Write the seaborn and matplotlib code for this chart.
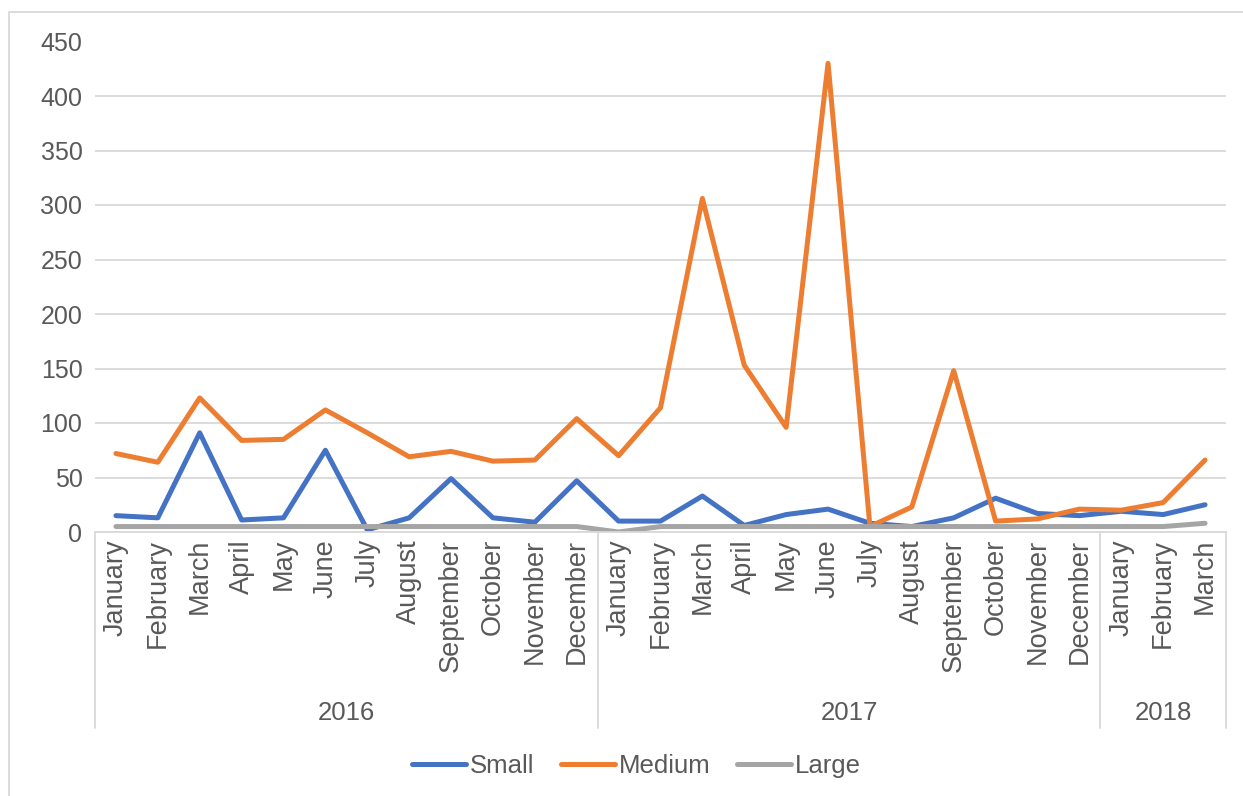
import matplotlib
matplotlib.use("Agg")
import matplotlib.pyplot as plt
import matplotlib.transforms as mtrans
from matplotlib.patches import Rectangle
from matplotlib.lines import Line2D
import seaborn as sns
import pandas as pd

months = ["January", "February", "March", "April", "May", "June", "July",
          "August", "September", "October", "November", "December",
          "January", "February", "March", "April", "May", "June", "July",
          "August", "September", "October", "November", "December",
          "January", "February", "March"]
years = ["2016", "2017", "2018"]
year_counts = [12, 12, 3]

small = [15, 13, 91, 11, 13, 75, 2, 13, 49, 13, 9, 47,
         10, 10, 33, 6, 16, 21, 8, 5, 13, 31, 17, 15, 19, 16, 25]
medium = [72, 64, 123, 84, 85, 112, 91, 69, 74, 65, 66, 104,
          70, 114, 306, 153, 96, 430, 5, 23, 148, 10, 12, 21, 20, 27, 66]
large = [5, 5, 5, 5, 5, 5, 5, 5, 5, 5, 5, 5,
         0, 5, 5, 5, 5, 5, 5, 5, 5, 5, 5, 5, 5, 5, 8]

series_names = ["Small", "Medium", "Large"]
colors = {"Small": "#4472C4", "Medium": "#ED7D31", "Large": "#A5A5A5"}

rows = []
for name, vals in zip(series_names, [small, medium, large]):
    for i, v in enumerate(vals):
        rows.append({"idx": i, "value": v, "series": name})
df = pd.DataFrame(rows)

sns.set_theme(style="white")
plt.rcParams["font.family"] = ["Liberation Sans", "DejaVu Sans"]
TXT = "#595959"

fig = plt.figure(figsize=(12.43, 7.96), dpi=100)
ax = fig.add_axes([95 / 1243, 1 - 532 / 796, (1226 - 95) / 1243, (532 - 41.5) / 796])

sns.lineplot(data=df, x="idx", y="value", hue="series", hue_order=series_names,
             palette=colors, linewidth=3.6, ax=ax, legend=False,
             solid_capstyle="round", solid_joinstyle="round")

ax.set_xlim(-0.5, len(months) - 0.5)
ax.set_ylim(0, 450)
ax.set_yticks(range(0, 451, 50))
ax.yaxis.grid(True, color="#D9D9D9", linewidth=1.3)
ax.set_axisbelow(True)
for s in ["top", "right", "left"]:
    ax.spines[s].set_visible(False)
ax.spines["bottom"].set_color("#D9D9D9")
ax.spines["bottom"].set_linewidth(1.3)
ax.tick_params(axis="y", length=0, labelsize=18, labelcolor=TXT, pad=9)
ax.set_xticks(range(len(months)))
ax.set_xticklabels(months, rotation=90, fontsize=19.5, color=TXT, va="top")
ax.tick_params(axis="x", length=0, pad=5)
ax.set_xlabel("")
ax.set_ylabel("")

# multi-level category axis
trans = mtrans.blended_transform_factory(ax.transData, fig.transFigure)
y_top = 1 - 532 / 796
y_bot = 1 - 728 / 796
y_year = 1 - 713 / 796
start = 0
bounds = [-0.5]
for yr, cnt in zip(years, year_counts):
    center = start + (cnt - 1) / 2
    ax.text(center, y_year, yr, transform=trans, ha="center", va="center",
            fontsize=18.5, color=TXT)
    start += cnt
    bounds.append(start - 0.5)
for b in bounds:
    ax.plot([b, b], [y_top, y_bot], transform=trans, color="#D9D9D9",
            linewidth=1.3, clip_on=False)

# legend
handles = [Line2D([0], [0], color=colors[n], linewidth=3.6, solid_capstyle="round")
           for n in series_names]
leg = fig.legend(handles, series_names, loc="center", bbox_to_anchor=(0.512, 1 - 766 / 796),
                 ncol=3, frameon=False, fontsize=18.5, handlelength=2.1,
                 handletextpad=0.15, columnspacing=1.05)
for t in leg.get_texts():
    t.set_color(TXT)

# outer chart border
fig.patches.append(Rectangle((9 / 1243, -0.1), 1.2, 1 - 12 / 796 + 0.1,
                             transform=fig.transFigure, fill=False,
                             edgecolor="#D9D9D9", linewidth=1.3))

fig.savefig("out.png", dpi=100)
